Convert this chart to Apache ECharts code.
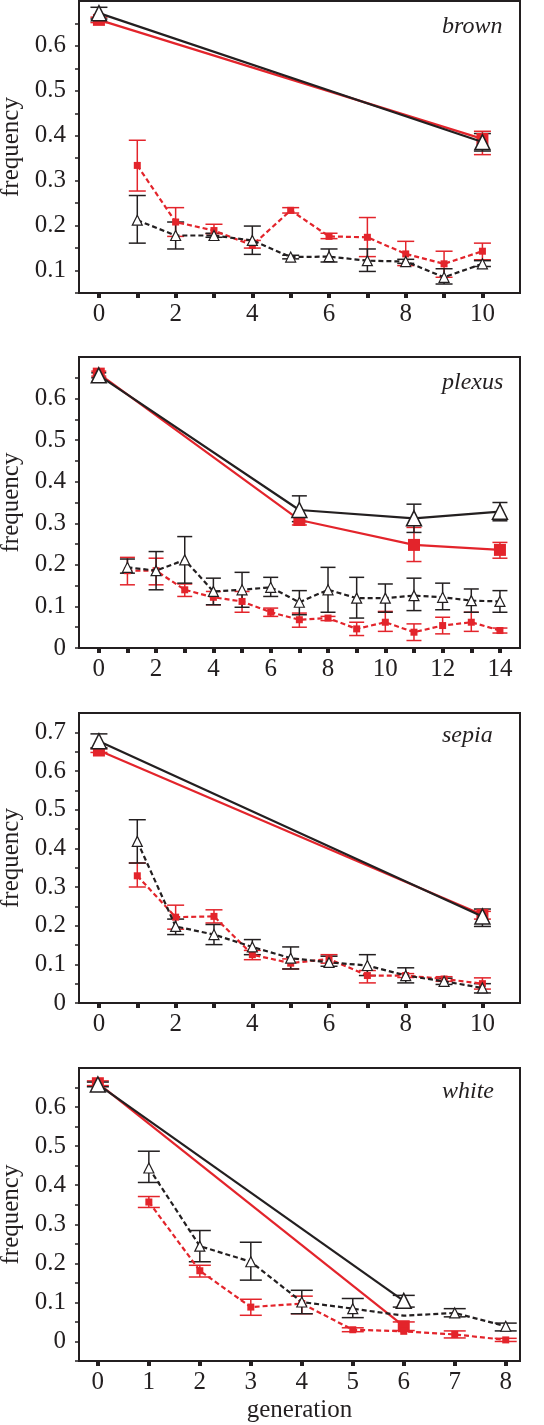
<!DOCTYPE html>
<html><head><meta charset="utf-8">
<script src="https://cdn.jsdelivr.net/npm/echarts@6/dist/echarts.min.js"></script>
<style>html,body{margin:0;padding:0;background:#fff}#c{width:544px;height:1425px}</style>
</head><body><div id="c"></div>
<script>
// ---------------- brown ----------------
const brownEndGen = [0, 10];
const brownBlackEnd = [0.673, 0.386];
const brownBlackEndLo = [0.660, 0.366];
const brownBlackEndHi = [0.686, 0.405];
const brownRedEnd = [0.658, 0.393];
const brownRedEndLo = [0.652, 0.358];
const brownRedEndHi = [0.664, 0.410];
const brownGen = [1, 2, 3, 4, 5, 6, 7, 8, 9, 10];
const brownBlack = [0.212, 0.178, 0.178, 0.167, 0.130, 0.131, 0.122, 0.120, 0.085, 0.115];
const brownBlackLo = [0.161, 0.148, 0.174, 0.136, 0.126, 0.119, 0.098, 0.116, 0.070, 0.109];
const brownBlackHi = [0.267, 0.208, 0.183, 0.199, 0.134, 0.148, 0.148, 0.125, 0.104, 0.122];
const brownRed = [0.334, 0.208, 0.189, 0.156, 0.234, 0.176, 0.174, 0.137, 0.115, 0.143];
const brownRedLo = [0.277, 0.176, 0.182, 0.150, 0.228, 0.171, 0.131, 0.111, 0.085, 0.124];
const brownRedHi = [0.390, 0.240, 0.203, 0.167, 0.240, 0.183, 0.218, 0.165, 0.143, 0.161];
const brownXTicks = [0, 1, 2, 3, 4, 5, 6, 7, 8, 9, 10];
const brownXLabels = [0, 2, 4, 6, 8, 10];
const brownYTicks = [0.05, 0.1, 0.15, 0.2, 0.25, 0.3, 0.35, 0.4, 0.45, 0.5, 0.55, 0.6, 0.65];
const brownYLabels = [0.1, 0.2, 0.3, 0.4, 0.5, 0.6];

// ---------------- plexus ----------------
const plexusEndGen = [0, 7, 11, 14];
const plexusBlackEnd = [0.656, 0.332, 0.312, 0.328];
const plexusBlackEndLo = [0.650, 0.304, 0.278, 0.306];
const plexusBlackEndHi = [0.662, 0.366, 0.346, 0.350];
const plexusRedEnd = [0.660, 0.308, 0.248, 0.236];
const plexusRedEndLo = [0.654, 0.296, 0.208, 0.216];
const plexusRedEndHi = [0.666, 0.316, 0.290, 0.254];
const plexusGen = [1, 2, 3, 4, 5, 6, 7, 8, 9, 10, 11, 12, 13, 14];
const plexusBlack = [0.194, 0.186, 0.212, 0.136, 0.140, 0.146, 0.110, 0.140, 0.120, 0.120, 0.126, 0.122, 0.114, 0.112];
const plexusBlackLo = [0.180, 0.140, 0.156, 0.104, 0.098, 0.124, 0.080, 0.086, 0.072, 0.086, 0.090, 0.092, 0.086, 0.086];
const plexusBlackHi = [0.214, 0.232, 0.268, 0.168, 0.182, 0.170, 0.138, 0.194, 0.170, 0.154, 0.168, 0.156, 0.142, 0.138];
const plexusRed = [0.186, 0.186, 0.140, 0.122, 0.112, 0.086, 0.068, 0.072, 0.046, 0.062, 0.038, 0.054, 0.062, 0.042];
const plexusRedLo = [0.152, 0.152, 0.124, 0.104, 0.086, 0.076, 0.050, 0.066, 0.030, 0.040, 0.018, 0.034, 0.040, 0.036];
const plexusRedHi = [0.218, 0.216, 0.154, 0.136, 0.136, 0.096, 0.084, 0.076, 0.062, 0.088, 0.058, 0.074, 0.086, 0.048];
const plexusXTicks = [0, 1, 2, 3, 4, 5, 6, 7, 8, 9, 10, 11, 12, 13, 14];
const plexusXLabels = [0, 2, 4, 6, 8, 10, 12, 14];
const plexusYTicks = [0, 0.05, 0.1, 0.15, 0.2, 0.25, 0.3, 0.35, 0.4, 0.45, 0.5, 0.55, 0.6, 0.65];
const plexusYLabels = [0, 0.1, 0.2, 0.3, 0.4, 0.5, 0.6];

// ---------------- sepia ----------------
const sepiaEndGen = [0, 10];
const sepiaBlackEnd = [0.677, 0.224];
const sepiaBlackEndLo = [0.660, 0.198];
const sepiaBlackEndHi = [0.696, 0.243];
const sepiaRedEnd = [0.653, 0.228];
const sepiaRedEndLo = [0.648, 0.217];
const sepiaRedEndHi = [0.658, 0.237];
const sepiaGen = [1, 2, 3, 4, 5, 6, 7, 8, 9, 10];
const sepiaBlack = [0.418, 0.198, 0.177, 0.145, 0.116, 0.105, 0.097, 0.071, 0.056, 0.039];
const sepiaBlackLo = [0.362, 0.177, 0.151, 0.125, 0.088, 0.095, 0.071, 0.052, 0.048, 0.026];
const sepiaBlackHi = [0.474, 0.217, 0.203, 0.164, 0.145, 0.121, 0.125, 0.091, 0.064, 0.050];
const sepiaRed = [0.329, 0.222, 0.224, 0.125, 0.103, 0.114, 0.071, 0.071, 0.062, 0.050];
const sepiaRedLo = [0.300, 0.191, 0.207, 0.112, 0.088, 0.103, 0.052, 0.066, 0.056, 0.036];
const sepiaRedHi = [0.362, 0.253, 0.241, 0.136, 0.114, 0.125, 0.084, 0.076, 0.068, 0.065];
const sepiaXTicks = [0, 1, 2, 3, 4, 5, 6, 7, 8, 9, 10];
const sepiaXLabels = [0, 2, 4, 6, 8, 10];
const sepiaYTicks = [0, 0.05, 0.1, 0.15, 0.2, 0.25, 0.3, 0.35, 0.4, 0.45, 0.5, 0.55, 0.6, 0.65, 0.7];
const sepiaYLabels = [0, 0.1, 0.2, 0.3, 0.4, 0.5, 0.6, 0.7];

// ---------------- white ----------------
const whiteEndGen = [0, 6];
const whiteBlackEnd = [0.658, 0.104];
const whiteBlackEndLo = [0.652, 0.088];
const whiteBlackEndHi = [0.664, 0.118];
const whiteRedEnd = [0.661, 0.039];
const whiteRedEndLo = [0.655, 0.028];
const whiteRedEndHi = [0.667, 0.050];
const whiteGen = [1, 2, 3, 4, 5, 6, 7, 8];
const whiteBlack = [0.444, 0.244, 0.204, 0.101, 0.084, 0.066, 0.073, 0.039];
const whiteBlackLo = [0.407, 0.204, 0.157, 0.071, 0.061, 0.066, 0.063, 0.027];
const whiteBlackHi = [0.487, 0.284, 0.254, 0.131, 0.110, 0.066, 0.084, 0.047];
const whiteBlackHidden = [6]; // generation where the open-triangle marker is not drawn
const whiteRed = [0.357, 0.181, 0.088, 0.097, 0.030, 0.026, 0.018, 0.004];
const whiteRedLo = [0.343, 0.165, 0.067, 0.071, 0.025, 0.026, 0.009, 0.000];
const whiteRedHi = [0.371, 0.195, 0.108, 0.116, 0.035, 0.026, 0.027, 0.008];
const whiteXTicks = [0, 1, 2, 3, 4, 5, 6, 7, 8];
const whiteXLabels = [0, 1, 2, 3, 4, 5, 6, 7, 8];
const whiteYTicks = [-0.05, 0, 0.05, 0.1, 0.15, 0.2, 0.25, 0.3, 0.35, 0.4, 0.45, 0.5, 0.55, 0.6, 0.65];
const whiteYLabels = [0, 0.1, 0.2, 0.3, 0.4, 0.5, 0.6];

// ---------------- rendering ----------------
const BLACK = '#231f20';
const RED = '#e3242b';
const FONT = '"Liberation Serif", "Times New Roman", serif';
const FS = 25;

const zip = (xs, ys, hidden) => xs.map((x, i) => {
  if (hidden && hidden.indexOf(x) >= 0) return { value: [x, ys[i]], symbol: 'none' };
  return [x, ys[i]];
});
const zip3 = (xs, lo, hi) => xs.map((x, i) => [x, lo[i], hi[i]]);

function errRender(capW, color) {
  return function (params, api) {
    const x = api.value(0), lo = api.value(1), hi = api.value(2);
    if (hi - lo < 1e-9) return { type: 'group', children: [] };
    const p1 = api.coord([x, lo]), p2 = api.coord([x, hi]);
    const st = { stroke: color, lineWidth: 1.5, fill: null };
    return {
      type: 'group', children: [
        { type: 'line', shape: { x1: p1[0], y1: p1[1], x2: p2[0], y2: p2[1] }, style: st },
        { type: 'line', shape: { x1: p1[0] - capW / 2, y1: p1[1], x2: p1[0] + capW / 2, y2: p1[1] }, style: st },
        { type: 'line', shape: { x1: p2[0] - capW / 2, y1: p2[1], x2: p2[0] + capW / 2, y2: p2[1] }, style: st }
      ]
    };
  };
}

const panels = [
  { name: 'brown', top: 1, bottom: 1425 - 293, xmin: -0.52, xmax: 10.98, ymin: 0.05, ymax: 0.7,
    titleTop: 15, cap: 17,
    endGen: brownEndGen, bE: brownBlackEnd, bELo: brownBlackEndLo, bEHi: brownBlackEndHi,
    rE: brownRedEnd, rELo: brownRedEndLo, rEHi: brownRedEndHi,
    gen: brownGen, b: brownBlack, bLo: brownBlackLo, bHi: brownBlackHi,
    r: brownRed, rLo: brownRedLo, rHi: brownRedHi,
    xT: brownXTicks, xL: brownXLabels, yT: brownYTicks, yL: brownYLabels },
  { name: 'plexus', top: 357, bottom: 1425 - 648, xmin: -0.69, xmax: 14.7, ymin: 0, ymax: 0.7,
    titleTop: 371, cap: 15,
    endGen: plexusEndGen, bE: plexusBlackEnd, bELo: plexusBlackEndLo, bEHi: plexusBlackEndHi,
    rE: plexusRedEnd, rELo: plexusRedEndLo, rEHi: plexusRedEndHi,
    gen: plexusGen, b: plexusBlack, bLo: plexusBlackLo, bHi: plexusBlackHi,
    r: plexusRed, rLo: plexusRedLo, rHi: plexusRedHi,
    xT: plexusXTicks, xL: plexusXLabels, yT: plexusYTicks, yL: plexusYLabels },
  { name: 'sepia', top: 713, bottom: 1425 - 1003, xmin: -0.52, xmax: 10.98, ymin: 0, ymax: 0.75,
    titleTop: 724, cap: 17,
    endGen: sepiaEndGen, bE: sepiaBlackEnd, bELo: sepiaBlackEndLo, bEHi: sepiaBlackEndHi,
    rE: sepiaRedEnd, rELo: sepiaRedEndLo, rEHi: sepiaRedEndHi,
    gen: sepiaGen, b: sepiaBlack, bLo: sepiaBlackLo, bHi: sepiaBlackHi,
    r: sepiaRed, rLo: sepiaRedLo, rHi: sepiaRedHi,
    xT: sepiaXTicks, xL: sepiaXLabels, yT: sepiaYTicks, yL: sepiaYLabels },
  { name: 'white', top: 1068, bottom: 1425 - 1361, xmin: -0.37, xmax: 8.28, ymin: -0.05, ymax: 0.7,
    titleTop: 1080, cap: 22, hidden: whiteBlackHidden, xName: 'generation',
    endGen: whiteEndGen, bE: whiteBlackEnd, bELo: whiteBlackEndLo, bEHi: whiteBlackEndHi,
    rE: whiteRedEnd, rELo: whiteRedEndLo, rEHi: whiteRedEndHi,
    gen: whiteGen, b: whiteBlack, bLo: whiteBlackLo, bHi: whiteBlackHi,
    r: whiteRed, rLo: whiteRedLo, rHi: whiteRedHi,
    xT: whiteXTicks, xL: whiteXLabels, yT: whiteYTicks, yL: whiteYLabels }
];

const option = { backgroundColor: '#fff', animation: false, grid: [], xAxis: [], yAxis: [], title: [], series: [] };

panels.forEach((p, i) => {
  option.grid.push({ left: 79, right: 24, top: p.top, bottom: p.bottom, show: true,
    borderColor: BLACK, borderWidth: 2, backgroundColor: 'transparent', outerBoundsMode: 'none', containLabel: false });
  option.title.push({ text: p.name, left: 442, top: p.titleTop, padding: 0,
    textStyle: { fontFamily: FONT, fontStyle: 'italic', fontWeight: 'normal', fontSize: 24, color: BLACK } });
  option.xAxis.push({ type: 'value', gridIndex: i, min: p.xmin, max: p.xmax,
    axisLine: { show: true, onZero: false, lineStyle: { color: BLACK, width: 2 } },
    axisTick: { show: true, customValues: p.xT, length: 5, lineStyle: { color: BLACK, width: 4 } },
    axisLabel: { customValues: p.xL, margin: 9, fontFamily: FONT, fontSize: FS, color: BLACK },
    splitLine: { show: false },
    name: p.xName || '', nameLocation: 'middle', nameGap: 37,
    nameTextStyle: { fontFamily: FONT, fontSize: FS, color: BLACK } });
  option.yAxis.push({ type: 'value', gridIndex: i, min: p.ymin, max: p.ymax,
    axisLine: { show: true, onZero: false, lineStyle: { color: BLACK, width: 2 } },
    axisTick: { show: true, customValues: p.yT, length: 4, lineStyle: { color: BLACK, width: 1.5 } },
    axisLabel: { customValues: p.yL, margin: 13, fontFamily: FONT, fontSize: FS, color: BLACK,
      formatter: v => (Math.abs(v) < 1e-9 ? '0' : String(+v.toFixed(2))) },
    splitLine: { show: false },
    name: 'frequency', nameLocation: 'middle', nameGap: 52, nameRotate: 90,
    nameTextStyle: { fontFamily: FONT, fontSize: FS, color: BLACK } });

  const ax = { xAxisIndex: i, yAxisIndex: i };
  // error bars
  option.series.push(Object.assign({ type: 'custom', z: 2, renderItem: errRender(p.cap, RED), data: zip3(p.endGen, p.rELo, p.rEHi), encode: { x: 0, y: [1, 2] } }, ax));
  option.series.push(Object.assign({ type: 'custom', z: 2, renderItem: errRender(p.cap, RED), data: zip3(p.gen, p.rLo, p.rHi), encode: { x: 0, y: [1, 2] } }, ax));
  option.series.push(Object.assign({ type: 'custom', z: 2, renderItem: errRender(p.cap, BLACK), data: zip3(p.endGen, p.bELo, p.bEHi), encode: { x: 0, y: [1, 2] } }, ax));
  option.series.push(Object.assign({ type: 'custom', z: 2, renderItem: errRender(p.cap, BLACK), data: zip3(p.gen, p.bLo, p.bHi), encode: { x: 0, y: [1, 2] } }, ax));
  // solid lines (start vs end)
  option.series.push(Object.assign({ type: 'line', z: 3, data: zip(p.endGen, p.rE), symbol: 'rect', symbolSize: 12,
    lineStyle: { color: RED, width: 2.2 }, itemStyle: { color: RED } }, ax));
  option.series.push(Object.assign({ type: 'line', z: 4, data: zip(p.endGen, p.bE), symbol: 'triangle', symbolSize: 15,
    lineStyle: { color: BLACK, width: 2.2 }, itemStyle: { color: '#fff', borderColor: BLACK, borderWidth: 1.5 } }, ax));
  // dashed lines (generation series)
  option.series.push(Object.assign({ type: 'line', z: 5, data: zip(p.gen, p.r), symbol: 'rect', symbolSize: 7,
    lineStyle: { color: RED, width: 2.2, type: [5, 3] }, itemStyle: { color: RED } }, ax));
  option.series.push(Object.assign({ type: 'line', z: 6, data: zip(p.gen, p.b, p.hidden), symbol: 'triangle', symbolSize: 10,
    lineStyle: { color: BLACK, width: 2.2, type: [5, 3] }, itemStyle: { color: '#fff', borderColor: BLACK, borderWidth: 1.2 } }, ax));
});

const chart = echarts.init(document.getElementById('c'), null, { renderer: 'canvas' });
chart.setOption(option);
</script>
</body></html>
